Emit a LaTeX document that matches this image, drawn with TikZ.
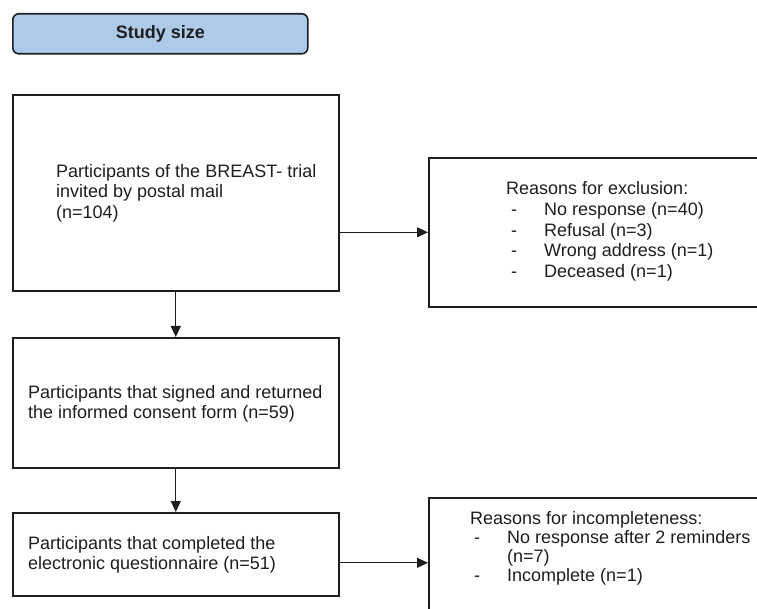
\documentclass[tikz,border=0pt]{standalone}
\usepackage{fontspec}
\setmainfont{Liberation Sans}
\usetikzlibrary{arrows.meta}
\definecolor{hdrblue}{RGB}{174,202,233}
\definecolor{ink}{RGB}{30,30,30}
\begin{document}
\begin{tikzpicture}[x=1pt,y=-1pt,
  box/.style={draw=ink, line width=1.6pt, rectangle, inner sep=0pt, anchor=north west},
  hdr/.style={box, fill=hdrblue, rounded corners=6pt},
  txt/.style={anchor=west, align=left, inner sep=0pt, text=ink, font=\fontsize{18}{20.5}\selectfont},
  arr/.style={draw=ink, line width=1.2pt, -{Triangle[length=11pt,width=10pt]}}]
\path[use as bounding box] (0,0) rectangle (757,609);
\clip (0,0) rectangle (757,609);
% header
\node[hdr, minimum width=295pt, minimum height=40pt, font=\fontsize{18}{20}\selectfont\bfseries, text=ink] (h) at (12,13) {Study size};
% boxes
\node[box, minimum width=326pt, minimum height=196pt] (b1) at (12,94) {};
\node[box, minimum width=326pt, minimum height=130pt] (b2) at (12,337) {};
\node[box, minimum width=326pt, minimum height=83pt] (b3) at (12,512) {};
\node[box, minimum width=380pt, minimum height=149pt] (b5) at (428,157) {};
\node[box, minimum width=380pt, minimum height=130pt] (b4) at (428,497) {};
% texts
\node[txt] (t1) at (56,193) {Participants of the BREAST- trial\\invited by postal mail\\(n=104)};
\node[txt] (t2) at (28,404) {Participants that signed and returned\\the informed consent form (n=59)};
\node[txt] (t3) at (28,555) {Participants that completed the\\electronic questionnaire (n=51)};
\node[txt] (t5) at (506,231) {Reasons for exclusion:\\[1pt]
\hspace*{5pt}\makebox[33pt][l]{-}No response (n=40)\\
\hspace*{5pt}\makebox[33pt][l]{-}Refusal (n=3)\\
\hspace*{5pt}\makebox[33pt][l]{-}Wrong address (n=1)\\
\hspace*{5pt}\makebox[33pt][l]{-}Deceased (n=1)};
\node[txt, font=\fontsize{18}{19}\selectfont] (t4) at (470,548) {Reasons for incompleteness:\\
\hspace*{4pt}\makebox[33pt][l]{-}No response after 2 reminders\\
\hspace*{37pt}(n=7)\\
\hspace*{4pt}\makebox[33pt][l]{-}Incomplete (n=1)};
% connectors
\draw[arr] (b1.south) -- (b2.north);
\draw[arr] (b2.south) -- (b3.north);
\draw[arr] (b1.east |- b5.west) -- (b5.west);
\draw[arr] (b3.east |- b4.west) -- (b4.west);
\end{tikzpicture}
\end{document}
